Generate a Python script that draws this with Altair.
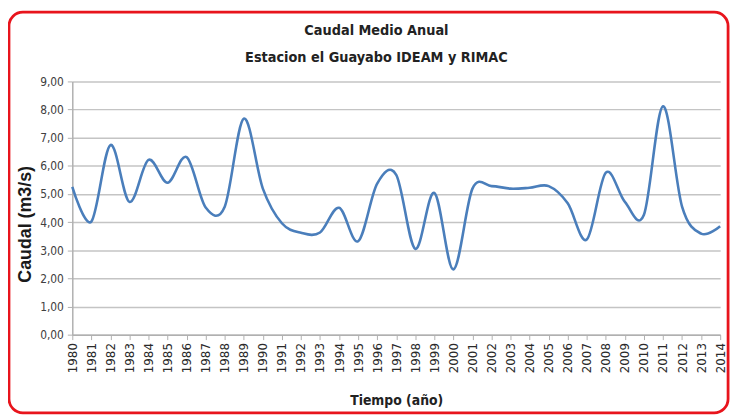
import altair as alt
import pandas as pd

years = list(range(1980, 2015))
caudal = [5.25, 4.02, 6.74, 4.72, 6.21, 5.40, 6.31, 4.52, 4.55, 7.68,
          5.19, 3.96, 3.62, 3.63, 4.51, 3.32, 5.37, 5.68, 3.05, 5.04,
          2.32, 5.19, 5.28, 5.19, 5.22, 5.28, 4.67, 3.38, 5.76, 4.72,
          4.26, 8.12, 4.55, 3.59, 3.85]
y_ticks = [0, 1, 2, 3, 4, 5, 6, 7, 8, 9]

df = pd.DataFrame({"year": years, "caudal": caudal})

W, H = 655, 256
condensed = "Liberation Sans Narrow, DejaVu Sans Condensed, sans-serif"

border = alt.Chart(pd.DataFrame({"a": [0]})).mark_rect(
    fill=None, stroke="#e8141c", strokeWidth=2.8, cornerRadius=14
).encode(
    x=alt.value(-64), x2=alt.value(W + 8),
    y=alt.value(-70), y2=alt.value(H + 79)
)

line = alt.Chart(df).mark_line(
    color="#4a7ebb", strokeWidth=2.6, interpolate="cardinal", tension=0
).encode(
    x=alt.X("year:Q",
            scale=alt.Scale(domain=[1980, 2014], nice=False, zero=False),
            axis=alt.Axis(values=years, format="d", labelAngle=270,
                          labelAlign="right", labelBaseline="middle",
                          labelFont="DejaVu Sans", labelFontSize=12,
                          labelColor="#2a2a2a", labelPadding=3,
                          tickSize=5, tickColor="#b0b0b0",
                          domainColor="#b0b0b0", domainWidth=1.5,
                          grid=False, title="Tiempo (año)",
                          titleFont=condensed, titleFontSize=14,
                          titleFontWeight="bold", titleColor="#222222",
                          titlePadding=21)),
    y=alt.Y("caudal:Q",
            scale=alt.Scale(domain=[0, 9], nice=False),
            axis=alt.Axis(values=y_ticks,
                          labelExpr="replace(format(datum.value, '.2f'), '.', ',')",
                          labelFont=condensed, labelFontSize=12,
                          labelColor="#404040", labelPadding=4,
                          tickSize=5, tickColor="#b0b0b0",
                          domainColor="#b0b0b0", domainWidth=1.5,
                          gridColor="#c4c4c4", gridWidth=1.5,
                          title="Caudal (m3/s)", titleFont="Liberation Sans",
                          titleFontSize=18, titleFontWeight="bold",
                          titleColor="#1a1a1a", titleAngle=270,
                          titleAlign="center", titleBaseline="middle",
                          titleX=-47, titleY=144))
)

chart = alt.layer(border, line).properties(
    width=W, height=H,
    title=alt.TitleParams(
        text=["Caudal Medio Anual", "Estacion el Guayabo IDEAM y RIMAC"],
        font=condensed, fontSize=14.5, fontWeight="bold", color="#222222",
        lineHeight=27, offset=16, dy=71, dx=-20, anchor="middle",
        frame="group"),
    padding={"left": 65, "top": 72, "right": 15, "bottom": 80},
    autosize=alt.AutoSizeParams(type="none"),
    background="white"
).configure_view(stroke=None)

chart.save("out.html", embed_options={"renderer": "svg", "actions": False})
